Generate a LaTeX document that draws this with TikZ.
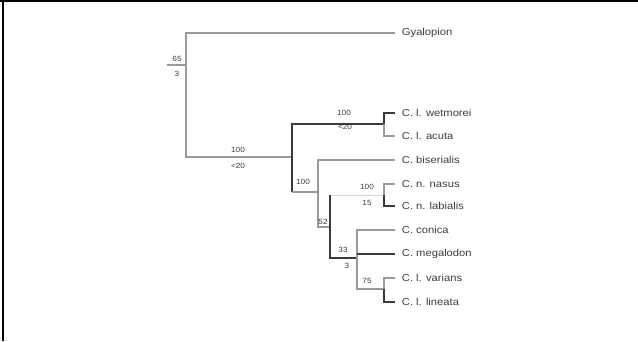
\documentclass[tikz,border=0pt]{standalone}
\usepackage{fontspec}
\setmainfont{Liberation Sans}
\usepackage{tikz}
\usetikzlibrary{positioning, calc}
\definecolor{treedark}{HTML}{3A3A3A}
\definecolor{treelight}{HTML}{9A9A9A}
\definecolor{treetext}{HTML}{3C3C3C}
\tikzset{
    taxon/.style={anchor=west, inner ysep=1pt, inner xsep=6pt, text=treetext, font=\fontsize{10}{11}\selectfont, xscale=1.12, transform shape},
    support/.style={inner sep=0pt, text=treetext, font=\fontsize{7.5}{8}\selectfont, xscale=1.1, transform shape},
    branch_dark/.style={treedark, line width=1.4pt},
    branch_light/.style={treelight, line width=1.1pt},
    branch_faint/.style={treelight!40, line width=0.8pt}
}
\begin{document}
\begin{tikzpicture}[x=1pt, y=-1pt]

    \useasboundingbox (0,0) rectangle (638,341);

    % Frame
    \draw[black, line width=2pt] (0,1) -- (638,1);
    \draw[black, line width=2pt] (3,0) -- (3,341);

    % Taxa
    \node[taxon] (gya) at (395,33) {Gyalopion};
    \node[taxon] (wet) at (395,113) {C. l. wetmorei};
    \node[taxon] (acu) at (395,136) {C. l. acuta};
    \node[taxon] (bis) at (395,160) {C. biserialis};
    \node[taxon] (nas) at (395,184) {C. n. nasus};
    \node[taxon] (lab) at (395,206) {C. n. labialis};
    \node[taxon] (con) at (395,230) {C. conica};
    \node[taxon] (meg) at (395,254) {C. megalodon};
    \node[taxon] (var) at (395,278) {C. l. varians};
    \node[taxon] (lin) at (395,302) {C. l. lineata};

    % Internal nodes
    \coordinate (stub) at (167,65);
    \coordinate (root) at (186,65);
    \coordinate (nA) at (292,157);
    \coordinate (nB) at (384,124);
    \coordinate (nC) at (318,192);
    \coordinate (nD) at (330,227);
    \coordinate (nN) at (384,195);
    \coordinate (nE) at (357,258);
    \coordinate (nF) at (384,289);

    % Branches
    \draw[branch_light] (stub) -- (root);
    \draw[branch_light] (gya.west) -| (root) |- (nA);
    \draw[branch_dark] (nB) -| (nA) -- (nA |- nC);
    \draw[branch_light] (nA |- nC) -- (nC);
    \draw[branch_dark] (wet.west) -| (nB);
    \draw[branch_light] (nB) |- (acu.west);
    \draw[branch_light] (bis.west) -| (nC) |- (nD);
    \draw[branch_faint] (nN) -- (nN -| nD);
    \draw[branch_dark] (nN -| nD) -- (nD) |- (nE);
    \draw[branch_light] (nas.west) -| (nN);
    \draw[branch_dark] (nN) |- (lab.west);
    \draw[branch_light] (con.west) -| (nE) |- (nF);
    \draw[branch_dark] (meg.west) -- (meg.west -| nE);
    \draw[branch_light] (var.west) -| (nF);
    \draw[branch_dark] (nF) |- (lin.west);

    % Support values
    \node[support] (s1a) at (177,59) {65};
    \node[support] (s1b) at (177,74) {3};
    \node[support] (s2a) at (238,150) {100};
    \node[support] (s2b) at (238,166) {<20};
    \node[support] (s3a) at (344,113) {100};
    \node[support] (s3b) at (345,127) {<20};
    \node[support] (s4) at (303,182) {100};
    \node[support] (s5a) at (367,187) {100};
    \node[support] (s5b) at (367,203) {15};
    \node[support] (s6) at (323,222) {52};
    \node[support] (s7a) at (343,250) {33};
    \node[support] (s7b) at (347,266) {3};
    \node[support] (s8) at (367,281) {75};

\end{tikzpicture}
\end{document}
